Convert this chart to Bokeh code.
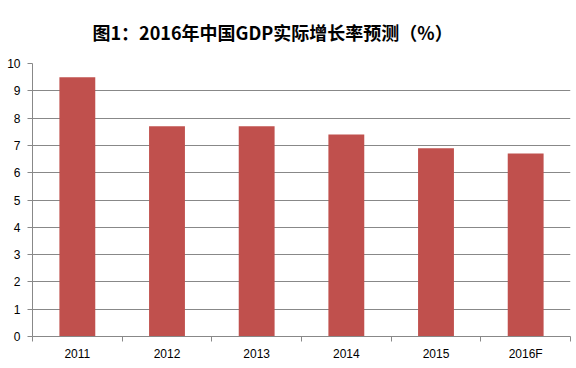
from bokeh.plotting import figure
from bokeh.models import FixedTicker, Range1d, ColumnDataSource
from bokeh.embed import file_html
from bokeh.resources import INLINE

title_text = "图1：2016年中国GDP实际增长率预测（%）"
categories = ["2011", "2012", "2013", "2014", "2015", "2016F"]
growth = [9.5, 7.7, 7.7, 7.4, 6.9, 6.7]
y_ticks = [0, 1, 2, 3, 4, 5, 6, 7, 8, 9, 10]

n = len(categories)
centers = [i + 0.5 for i in range(n)]
bounds = list(range(n + 1))

source = ColumnDataSource(dict(x=centers, top=growth))

p = figure(width=576, height=368, output_backend="svg", toolbar_location=None,
           x_range=Range1d(0, n), y_range=Range1d(0, 10),
           min_border_left=32, min_border_right=6, min_border_bottom=32, min_border_top=63)

p.vbar(x="x", top="top", width=0.4, source=source, color="#C0504D", line_color=None)

p.title.text = title_text
p.title.align = "left"
p.title.offset = 60
p.title.vertical_align = "top"
p.title.text_font = "Noto Sans CJK SC"
p.title.text_font_size = "18px"
p.title.text_font_style = "bold"
p.title.text_color = "#000000"
p.title.standoff = 34

p.outline_line_color = None
p.xgrid.grid_line_color = None
p.ygrid.grid_line_color = "#888888"
p.ygrid.grid_line_width = 1
p.ygrid.ticker = FixedTicker(ticks=y_ticks)

ya = p.yaxis[0]
ya.ticker = FixedTicker(ticks=y_ticks)
ya.axis_line_color = "#888888"
ya.major_tick_line_color = "#888888"
ya.major_tick_in = 0
ya.major_tick_out = 5
ya.minor_tick_line_color = None
ya.major_label_text_font = "Liberation Sans"
ya.major_label_text_font_size = "12px"
ya.major_label_text_color = "#000000"
ya.major_label_standoff = 7

xa = p.xaxis[0]
xa.ticker = FixedTicker(ticks=centers, minor_ticks=bounds)
xa.major_label_overrides = {c: lab for c, lab in zip(centers, categories)}
xa.axis_line_color = "#888888"
xa.major_tick_line_color = None
xa.major_tick_in = 0
xa.major_tick_out = 5
xa.minor_tick_line_color = "#888888"
xa.minor_tick_in = 0
xa.minor_tick_out = 5
xa.major_label_text_font = "Liberation Sans"
xa.major_label_text_font_size = "12px"
xa.major_label_text_color = "#000000"
xa.major_label_standoff = 5
xa.axis_label_standoff = 0

open("out.html", "w").write(file_html(p, INLINE))
